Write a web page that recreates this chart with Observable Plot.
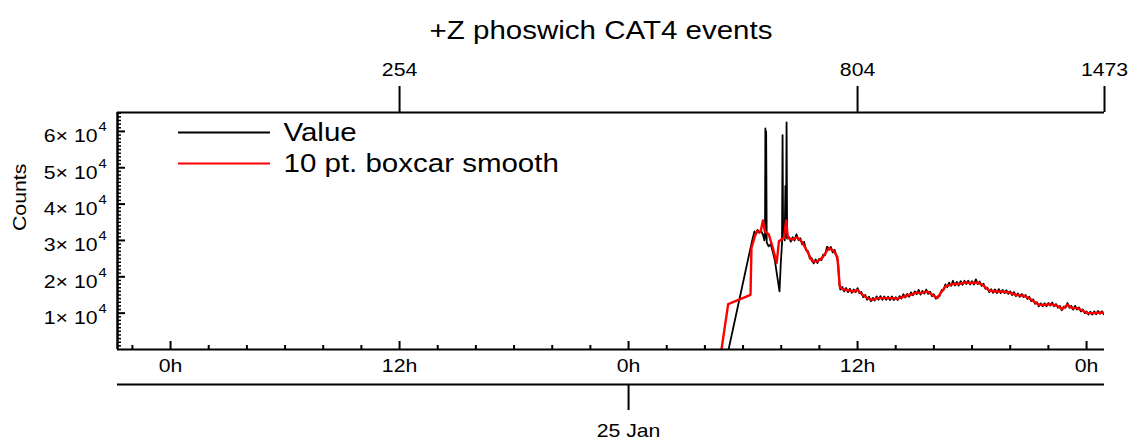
<!DOCTYPE html>
<html><head><meta charset="utf-8">
<script src="https://cdn.jsdelivr.net/npm/d3@7"></script>
<script src="https://cdn.jsdelivr.net/npm/@observablehq/plot@0.6"></script>
<style>body{margin:0;background:#fff} svg{display:block}</style>
</head><body><div id="chart"></div>
<script>
// ---- text ----
const title = "+Z phoswich CAT4 events";
const yTitle = "Counts";
const seriesNames = ["Value", "10 pt. boxcar smooth"];
const dateLabel = "25 Jan";

// ---- time axis (hours relative to 25 Jan 00:00) ----
const xStartHour = -26.78;
const xEndHour = 24.94;
const majorTickHours = [-24, -12, 0, 12, 24];
const majorTickLabels = ["0h", "12h", "0h", "12h", "0h"];
const minorTickHours = [-26, -22, -20, -18, -16, -14, -10, -8, -6, -4, -2, 2, 4, 6, 8, 10, 14, 16, 18, 20, 22];
const dateTickHours = [0];
const topTickHours = [-12, 12, 24.94];
const topTickLabels = ["254", "804", "1473"];

// ---- y axis ----
const yMax = 65200;
const yMajorTicks = [10000, 20000, 30000, 40000, 50000, 60000];
const yMajorLabels = ["1× 10", "2× 10", "3× 10", "4× 10", "5× 10", "6× 10"];
const yExponent = "4";
const yMinorTicks = [1000,2000,3000,4000,5000,6000,7000,8000,9000,11000,12000,13000,14000,15000,16000,17000,18000,19000,21000,22000,23000,24000,25000,26000,27000,28000,29000,31000,32000,33000,34000,35000,36000,37000,38000,39000,41000,42000,43000,44000,45000,46000,47000,48000,49000,51000,52000,53000,54000,55000,56000,57000,58000,59000,61000,62000,63000,64000,65000];

// ---- series: Value (black), [hour, counts] ----
const valuePoints = [
  [5.24, 0], [6.39, 27900], [6.50, 30500], [6.60, 32500], [6.68, 31800], [6.76, 32900], [6.85, 32100], [6.95, 32600],
  [7.05, 31500], [7.12, 30000], [7.15, 31000], [7.17, 60800], [7.19, 31500], [7.21, 60000], [7.24, 29500], [7.34, 28400],
  [7.45, 28900], [7.55, 27000], [7.66, 24700], [7.91, 16000], [7.98, 24000], [8.04, 29000], [8.07, 59000], [8.10, 31000],
  [8.14, 33000], [8.18, 30000], [8.22, 45000], [8.25, 31000], [8.28, 62500], [8.31, 30500],
  [8.4, 31000], [8.5, 29700], [8.6, 30900], [8.7, 30000], [8.8, 31700], [8.9, 30100], [9.0, 30600], [9.1, 28900],
  [9.2, 29600], [9.3, 27300], [9.4, 27100], [9.5, 25000], [9.6, 25100], [9.7, 23700], [9.8, 24800], [9.9, 23800],
  [10.0, 25000], [10.1, 24600], [10.2, 26100], [10.3, 26000], [10.4, 28300], [10.5, 27400], [10.6, 28200], [10.7, 26700],
  [10.8, 27400], [10.9, 25600], [10.98, 24000], [11.05, 17800], [11.1, 16500], [11.2, 17200], [11.3, 16000], [11.4, 16900],
  [11.5, 15800], [11.6, 16700], [11.7, 15600], [11.8, 16500], [11.9, 15800], [12.0, 16900], [12.1, 15500], [12.2, 15800],
  [12.3, 14400], [12.4, 15000], [12.5, 13700], [12.6, 14500], [12.7, 13300], [12.8, 14200], [12.9, 13500], [13.0, 14600],
  [13.1, 13700], [13.2, 14700], [13.3, 13700], [13.4, 14600], [13.5, 13700], [13.6, 14500], [13.7, 13600], [13.8, 14600],
  [13.9, 13600], [14.0, 14400], [14.1, 13600], [14.2, 14700], [14.3, 14000], [14.4, 15200], [14.5, 14300], [14.6, 15300],
  [14.7, 14500], [14.8, 15700], [14.9, 14900], [15.0, 16000], [15.1, 15200], [15.2, 16400], [15.3, 15100], [15.4, 16100],
  [15.5, 15400], [15.6, 16500], [15.7, 15300], [15.8, 15900], [15.9, 14700], [16.0, 15200], [16.1, 14000], [16.2, 14600],
  [16.3, 14700], [16.4, 16300], [16.5, 16300], [16.6, 17900], [16.7, 17200], [16.8, 18400], [16.9, 17500], [17.0, 18900],
  [17.1, 17600], [17.2, 18600], [17.3, 17600], [17.4, 18800], [17.5, 17800], [17.6, 18900], [17.7, 18000], [17.8, 18900],
  [17.9, 17900], [18.0, 18800], [18.1, 17900], [18.2, 19300], [18.3, 18000], [18.4, 18700], [18.5, 17500], [18.6, 18100],
  [18.7, 16700], [18.8, 17000], [18.9, 15800], [19.0, 16600], [19.1, 15600], [19.2, 16500], [19.3, 15500], [19.4, 16600],
  [19.5, 15500], [19.6, 16400], [19.7, 15500], [19.8, 16300], [19.9, 15300], [20.0, 16000], [20.1, 15000], [20.2, 15800],
  [20.3, 14700], [20.4, 15400], [20.5, 14500], [20.6, 15300], [20.7, 14400], [20.8, 15000], [20.9, 13900], [21.0, 14500],
  [21.1, 13300], [21.2, 13800], [21.3, 12600], [21.4, 13000], [21.5, 11900], [21.6, 12700], [21.7, 11900], [21.8, 12700],
  [21.9, 11900], [22.0, 12800], [22.1, 12100], [22.2, 12900], [22.3, 11900], [22.4, 12500], [22.5, 11500], [22.6, 12000],
  [22.7, 10800], [22.8, 11800], [22.9, 11500], [23.0, 12800], [23.1, 11500], [23.2, 12000], [23.3, 11000], [23.4, 12000],
  [23.5, 11000], [23.6, 11600], [23.7, 10500], [23.8, 11000], [23.9, 10000], [24.0, 10500], [24.1, 9600], [24.2, 10400],
  [24.3, 9600], [24.4, 10500], [24.5, 9700], [24.6, 10600], [24.7, 9800], [24.8, 10500], [24.9, 9700], [24.94, 10000]
];

// ---- series: 10 pt. boxcar smooth (red) ----
const smoothHours = [4.87, 5.22, 6.39, 6.44, 6.62, 6.74, 6.92, 7.04, 7.14, 7.35, 7.56, 7.76, 7.88, 8.14, 8.26, 8.35, 8.58, 8.84, 9.10, 9.36, 9.63, 9.89, 10.15, 10.50, 10.76, 10.94, 11.07, 11.20, 11.54, 11.81, 11.98, 12.25, 12.51, 12.77, 13.04, 13.38, 13.73, 14.08, 14.43, 14.78, 15.13, 15.30, 15.65, 15.92, 16.18, 16.35, 16.61, 16.96, 17.31, 17.66, 17.92, 18.27, 18.54, 18.88, 19.23, 19.58, 19.93, 20.28, 20.71, 20.98, 21.24, 21.50, 21.77, 22.11, 22.46, 22.73, 22.99, 23.25, 23.51, 23.78, 24.04, 24.38, 24.73, 24.94];
const smoothCounts = [0, 12490, 15050, 27960, 31160, 32540, 32370, 35500, 32540, 31630, 27960, 23800, 29780, 30720, 35500, 30720, 30250, 30890, 29500, 27020, 24250, 24250, 25200, 27960, 27020, 25500, 17350, 16630, 16240, 15970, 16440, 15060, 14140, 13670, 14140, 14140, 14140, 13950, 14590, 15060, 15690, 15520, 15970, 15060, 14140, 15520, 17350, 18010, 18010, 18450, 18290, 18450, 17820, 16240, 15970, 15970, 15690, 15060, 14780, 14140, 13200, 12290, 12290, 12490, 12020, 11100, 12290, 11380, 11380, 10720, 10000, 10000, 10170, 10000];

// ---- build ----
const base = Date.UTC(2024, 0, 25);
const T = h => new Date(base + h * 3600e3);
const valueData = valuePoints.map(([h, c]) => ({t: T(h), v: c}));
const smoothData = smoothHours.map((h, i) => ({t: T(h), v: smoothCounts[i]}));

const W = 1138, H = 443, mL = 117, mR = 34, mT = 112, mB = 94;
const plotW = W - mL - mR, plotH = H - mT - mB;
const font = "'Liberation Sans', Arial, Helvetica, sans-serif";
const tickFont = 18, bigFont = 25;
const mid = {lineAnchor: "middle"};

const chart = Plot.plot({
  width: W, height: H,
  marginLeft: mL, marginRight: mR, marginTop: mT, marginBottom: mB,
  x: {type: "utc", domain: [T(xStartHour), T(xEndHour)], axis: null},
  y: {domain: [0, yMax], axis: null},
  style: {fontFamily: font, background: "white", color: "black"},
  marks: [
    // data
    Plot.line(valueData, {x: "t", y: "v", stroke: "black", strokeWidth: 1.8, clip: true}),
    Plot.line(smoothData, {x: "t", y: "v", stroke: "#ff0000", strokeWidth: 2.4, clip: true}),
    // frame lines
    Plot.ruleY([0], {stroke: "black", strokeWidth: 2}),
    Plot.ruleY([yMax], {stroke: "black", strokeWidth: 2}),
    Plot.ruleX([T(xStartHour)], {stroke: "black", strokeWidth: 2.5}),
    Plot.ruleY([0], {stroke: "black", strokeWidth: 2, dy: 35}),
    // bottom time ticks
    Plot.ruleX(majorTickHours, {x: h => T(h), insetTop: plotH - 8, stroke: "black", strokeWidth: 2}),
    Plot.ruleX(minorTickHours, {x: h => T(h), insetTop: plotH - 4, stroke: "black", strokeWidth: 2}),
    Plot.text(majorTickHours, {x: h => T(h), text: (d, i) => majorTickLabels[i], frameAnchor: "bottom", dy: 17, fontSize: tickFont, ...mid}),
    // date axis
    Plot.ruleX(dateTickHours, {x: h => T(h), insetTop: plotH + 35, insetBottom: -61, stroke: "black", strokeWidth: 2}),
    Plot.text(dateTickHours, {x: h => T(h), text: () => dateLabel, frameAnchor: "bottom", dy: 82, fontSize: tickFont, ...mid}),
    // top axis
    Plot.ruleX(topTickHours, {x: h => T(h), insetTop: -26, insetBottom: plotH, stroke: "black", strokeWidth: 2}),
    Plot.text(topTickHours, {x: h => T(h), text: (d, i) => topTickLabels[i], frameAnchor: "top", dy: -42, fontSize: tickFont, ...mid}),
    // y axis ticks and labels
    Plot.ruleY(yMajorTicks, {y: d => d, insetRight: plotW - 8, stroke: "black", strokeWidth: 2}),
    Plot.ruleY(yMinorTicks, {y: d => d, insetRight: plotW - 4, stroke: "black", strokeWidth: 1.5}),
    Plot.text(yMajorTicks, {y: d => d, text: (d, i) => yMajorLabels[i], frameAnchor: "left", dx: -20, dy: 5, textAnchor: "end", fontSize: tickFont, ...mid}),
    Plot.text(yMajorTicks, {y: d => d, text: () => yExponent, frameAnchor: "left", dx: -19, dy: -4, textAnchor: "start", fontSize: 12.5, ...mid}),
    Plot.text([yTitle], {frameAnchor: "left", dx: -97, rotate: -90, fontSize: tickFont, ...mid}),
    // title
    Plot.text([title], {frameAnchor: "top", dx: -10, dy: -82, fontSize: bigFont, ...mid}),
    // legend
    Plot.ruleY([yMax], {insetLeft: 61, insetRight: plotW - 153, dy: 20, stroke: "black", strokeWidth: 2}),
    Plot.ruleY([yMax], {insetLeft: 61, insetRight: plotW - 153, dy: 51, stroke: "#ff0000", strokeWidth: 2}),
    Plot.text([seriesNames[0]], {frameAnchor: "top-left", dx: 166, dy: 20, textAnchor: "start", fontSize: bigFont, ...mid}),
    Plot.text([seriesNames[1]], {frameAnchor: "top-left", dx: 166, dy: 51, textAnchor: "start", fontSize: bigFont, ...mid})
  ]
});
// the reference's lettering is slightly wider than Liberation Sans: stretch each label horizontally about its anchor
d3.select(chart).selectAll("text").each(function () {
  const t = this.getAttribute("transform") || "";
  this.setAttribute("transform", (t + " scale(1.18,1)").trim());
});
document.getElementById("chart").appendChild(chart);
</script>
</body></html>
